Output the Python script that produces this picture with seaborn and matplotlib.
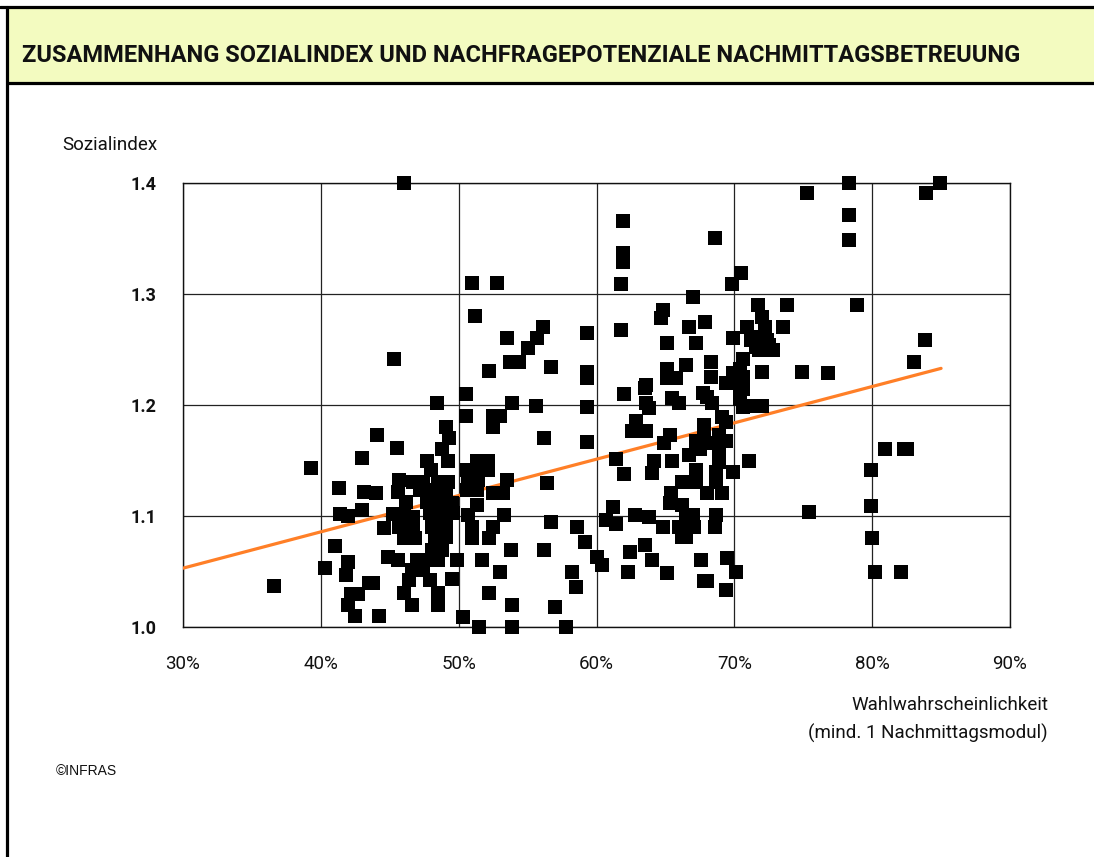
import matplotlib
matplotlib.use("Agg")
import matplotlib.pyplot as plt
from matplotlib.lines import Line2D
from matplotlib.patches import Rectangle
import seaborn as sns
import pandas as pd

# Wahlwahrscheinlichkeit (%) und Sozialindex
wahl_links = [36.6, 39.3, 40.3, 41.0, 41.3, 41.4, 41.8, 42.0, 42.0, 42.2, 42.0, 42.5, 42.7,
              43.0, 43.1, 43.0, 43.5, 43.8, 44.1, 44.0, 44.2]
sozial_links = [1.037, 1.143, 1.053, 1.073, 1.125, 1.102, 1.047, 1.059, 1.020, 1.030, 1.100, 1.010, 1.030,
                1.152, 1.122, 1.105, 1.040, 1.040, 1.173, 1.121, 1.010]

wahl_mitte = [45.3, 46.0, 51.0, 52.8, 51.2, 52.2,
              50.5, 48.4, 53.9, 50.5, 52.5, 53.0, 52.5, 49.1, 49.3, 45.5, 48.8, 49.2, 47.7, 51.3, 52.1,
              48.0, 50.6, 51.3, 52.1, 45.7, 46.7, 47.4, 48.5, 49.2, 50.7, 51.4, 53.5,
              45.6, 47.2, 48.1, 49.1, 50.6, 51.3, 52.5, 53.2, 46.2, 47.7, 48.6, 49.5, 51.3,
              45.2, 46.0, 46.7, 47.9, 48.8, 49.6, 50.7, 53.3, 44.6, 45.7, 46.7, 48.1, 49.1, 51.0, 52.5,
              46.0, 46.8, 48.3, 49.1, 51.0, 52.2, 53.8, 48.1, 48.8, 44.9, 45.6, 47.0, 47.7, 48.5, 49.9, 51.7,
              46.6, 47.4, 53.0, 46.4, 47.9, 49.5, 46.0, 48.5, 52.2, 46.6, 48.5, 53.9, 50.3, 51.5, 53.9]
sozial_mitte = [1.241, 1.400, 1.310, 1.310, 1.280, 1.231,
                1.210, 1.202, 1.202, 1.190, 1.190, 1.190, 1.180, 1.180, 1.170, 1.161, 1.160, 1.150, 1.150, 1.150, 1.150,
                1.141, 1.141, 1.141, 1.141, 1.132, 1.131, 1.131, 1.131, 1.131, 1.132, 1.132, 1.132,
                1.122, 1.123, 1.123, 1.123, 1.123, 1.123, 1.121, 1.121, 1.113, 1.113, 1.113, 1.112, 1.110,
                1.102, 1.102, 1.099, 1.103, 1.103, 1.103, 1.101, 1.101, 1.089, 1.090, 1.089, 1.090, 1.090, 1.090, 1.090,
                1.080, 1.080, 1.081, 1.081, 1.080, 1.080, 1.069, 1.069, 1.069, 1.063, 1.060, 1.060, 1.060, 1.060, 1.060, 1.060,
                1.051, 1.051, 1.050, 1.042, 1.042, 1.043, 1.031, 1.031, 1.031, 1.020, 1.020, 1.020, 1.009, 1.000, 1.000]

wahl_55_62 = [56.1, 53.5, 55.7, 59.3, 61.8, 55.0, 53.7, 54.4, 56.7, 59.3, 59.3, 62.0, 55.6, 59.3,
              56.2, 59.3, 61.4, 62.0, 56.4, 56.7, 61.2, 60.7, 61.4, 58.6, 59.2, 56.2, 60.0, 60.4,
              58.2, 58.5, 57.0, 57.8, 61.8, 61.9, 61.9, 61.9]
sozial_55_62 = [1.270, 1.260, 1.260, 1.265, 1.268, 1.251, 1.239, 1.239, 1.234, 1.230, 1.224, 1.210, 1.199, 1.198,
                1.170, 1.167, 1.151, 1.138, 1.130, 1.095, 1.108, 1.096, 1.093, 1.090, 1.077, 1.069, 1.063, 1.056,
                1.050, 1.036, 1.018, 1.000, 1.309, 1.366, 1.337, 1.329]

wahl_62_72 = [68.6, 70.5, 69.8, 67.0, 64.8, 64.7, 67.9, 66.7, 65.1, 67.2, 69.9, 70.9, 71.2, 71.6,
              70.6, 70.4, 69.9, 68.3, 66.5, 65.1, 65.8, 65.1, 68.3, 69.4, 70.4, 70.4, 70.6,
              63.6, 63.5, 65.5, 66.0, 67.7, 68.0, 68.4, 63.6, 63.8, 69.1, 69.4, 62.9, 62.6, 63.6,
              65.3, 67.8, 67.8, 68.9, 64.9, 67.2, 67.9, 69.4, 66.7, 67.5, 68.9, 68.9,
              64.2, 65.5, 71.1, 64.0, 67.2, 68.7, 69.9, 66.2, 67.2, 68.7, 65.4, 68.0, 69.1,
              65.3, 66.2, 66.5, 67.0, 68.7, 62.8, 63.8, 64.8, 66.0, 66.7, 67.1, 68.6, 66.2, 66.5,
              62.4, 63.5, 64.0, 67.6, 69.5, 70.1, 62.3, 65.1, 67.8, 68.0, 69.4]
sozial_62_72 = [1.350, 1.319, 1.309, 1.297, 1.286, 1.278, 1.275, 1.270, 1.256, 1.256, 1.260, 1.270, 1.259, 1.252,
                1.241, 1.232, 1.229, 1.239, 1.236, 1.232, 1.224, 1.224, 1.225, 1.220, 1.216, 1.205, 1.198,
                1.218, 1.215, 1.206, 1.202, 1.211, 1.207, 1.202, 1.202, 1.197, 1.189, 1.185, 1.186, 1.177, 1.177,
                1.173, 1.182, 1.175, 1.173, 1.166, 1.168, 1.166, 1.168, 1.155, 1.160, 1.160, 1.149,
                1.150, 1.150, 1.150, 1.139, 1.141, 1.140, 1.140, 1.131, 1.131, 1.131, 1.121, 1.121, 1.121,
                1.112, 1.110, 1.101, 1.101, 1.101, 1.101, 1.099, 1.090, 1.090, 1.090, 1.090, 1.090, 1.081, 1.081,
                1.068, 1.074, 1.060, 1.060, 1.062, 1.050, 1.050, 1.049, 1.041, 1.041, 1.033]

wahl_rechts = [78.3, 75.3, 84.9, 83.9, 78.3, 78.3, 71.7, 73.8, 78.9, 72.0, 73.5, 72.2, 71.8, 72.4,
               72.8, 71.8, 72.5, 83.8, 83.0, 72.0, 74.9, 76.8, 70.6, 70.6, 71.4, 72.0,
               80.9, 82.3, 82.5, 79.9, 79.9, 75.4, 80.0, 80.2, 82.1]
sozial_rechts = [1.400, 1.391, 1.400, 1.391, 1.371, 1.349, 1.290, 1.290, 1.290, 1.279, 1.270, 1.270, 1.261, 1.259,
                 1.250, 1.250, 1.254, 1.259, 1.239, 1.230, 1.230, 1.229, 1.225, 1.214, 1.199, 1.199,
                 1.160, 1.160, 1.160, 1.141, 1.109, 1.104, 1.080, 1.050, 1.050]

trend_x = [30, 85]
trend_y = [1.053, 1.233]

x_ticks = [30, 40, 50, 60, 70, 80, 90]
y_ticks = [1.0, 1.1, 1.2, 1.3, 1.4]

df = pd.DataFrame({
    "wahl": wahl_links + wahl_mitte + wahl_55_62 + wahl_62_72 + wahl_rechts,
    "sozial": sozial_links + sozial_mitte + sozial_55_62 + sozial_62_72 + sozial_rechts,
})

sns.set_theme(style="white")
plt.rcParams["font.family"] = ["Roboto", "DejaVu Sans"]

fig = plt.figure(figsize=(10.94, 8.57), dpi=100)
fig.patch.set_facecolor("white")

# Titelband
W, H = 1094, 857
fig.patches.append(Rectangle((8 / W, 1 - 82 / H), 1, 75 / H, transform=fig.transFigure,
                             facecolor="#F3FBC0", edgecolor="none", zorder=0))
for xs, ys in [((0, 1), (1 - 7 / H, 1 - 7 / H)),
               ((8 / W, 1), (1 - 82.5 / H, 1 - 82.5 / H)),
               ((6.5 / W, 6.5 / W), (0, 1 - 7 / H))]:
    fig.lines.append(Line2D(xs, ys, transform=fig.transFigure, color="black", linewidth=2.3))
fig.text(22 / W, 1 - 55 / H, "ZUSAMMENHANG SOZIALINDEX UND NACHFRAGEPOTENZIALE NACHMITTAGSBETREUUNG",
         fontsize=17, fontweight="bold", color="#111111", va="center", ha="left")

ax = fig.add_axes([183 / W, 1 - 627 / H, (1010 - 183) / W, (627 - 183) / H])

sns.lineplot(x=trend_x, y=trend_y, ax=ax, color="#FF7F27", linewidth=2.3, zorder=3)
sns.scatterplot(data=df, x="wahl", y="sozial", ax=ax, marker="s", color="black",
                s=92, linewidth=0, clip_on=False, zorder=4)

ax.set_xlim(30, 90)
ax.set_ylim(1.0, 1.4)
ax.set_xticks(x_ticks)
ax.set_xticklabels([f"{v}%" for v in x_ticks], fontsize=13.5)
ax.set_yticks(y_ticks)
ax.set_yticklabels([f"{v:.1f}" for v in y_ticks], fontsize=13, fontweight="bold")
ax.tick_params(axis="both", length=0, colors="#111111")
ax.tick_params(axis="y", pad=19)
ax.tick_params(axis="x", pad=20)
ax.grid(True, color="#222222", linewidth=0.9)
ax.set_axisbelow(True)
for sp in ax.spines.values():
    sp.set_color("#111111")
    sp.set_linewidth(1.0)
ax.set_xlabel("")
ax.set_ylabel("")

fig.text(62 / W, 1 - 145 / H, "Sozialindex", fontsize=13.5, va="center", ha="left", color="#111111")
fig.text(1048 / W, 1 - 705 / H, "Wahlwahrscheinlichkeit", fontsize=13.5, va="center", ha="right", color="#111111")
fig.text(1048 / W, 1 - 733 / H, "(mind. 1 Nachmittagsmodul)", fontsize=13.5, va="center", ha="right", color="#111111")
fig.text(56 / W, 1 - 771 / H, "©INFRAS", fontsize=10, va="center", ha="left", color="#111111",
         family=["Liberation Sans", "DejaVu Sans"])

fig.savefig("out.png", dpi=100)
